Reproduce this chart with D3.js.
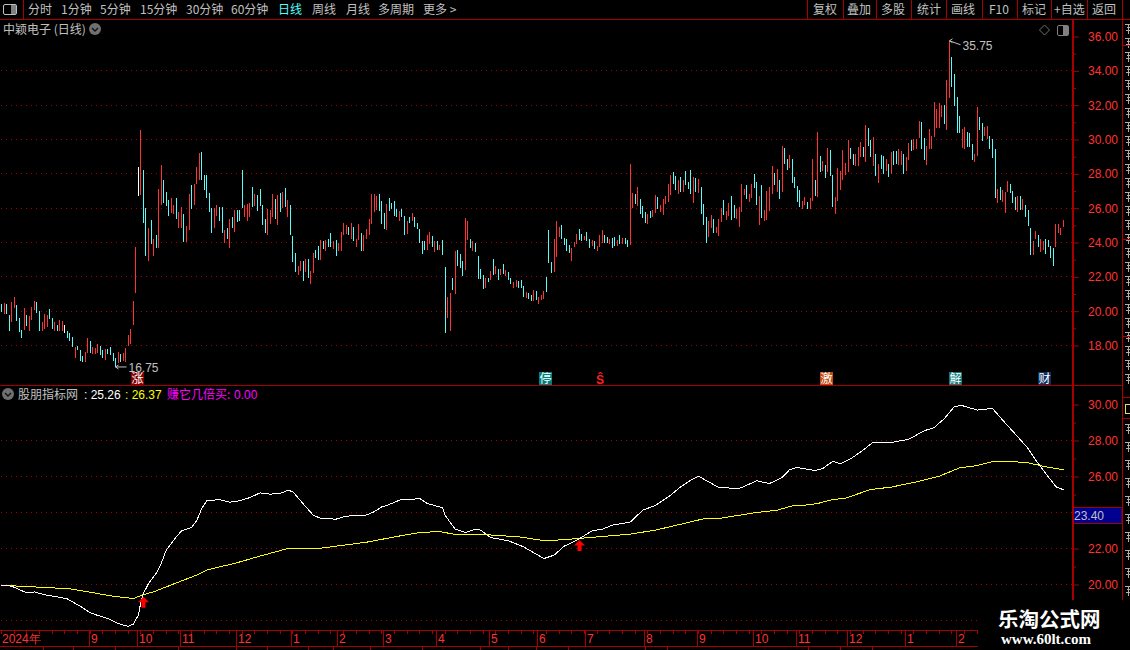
<!DOCTYPE html>
<html>
<head>
<meta charset="utf-8">
<title>中颖电子 (日线)</title>
<script src="https://cdnjs.cloudflare.com/ajax/libs/d3/7.8.5/d3.min.js"></script>
<style>
html, body { margin: 0; padding: 0; background: #000; overflow: hidden; }
svg { display: block; }
text { font-family: "Noto Sans CJK SC", "Noto Sans", sans-serif; font-size: 12px; }
.num { font-family: "Liberation Sans", Arial, sans-serif; }
</style>
</head>
<body>
<div id="chart"></div>
<script>
// daily bars: high, low and colour (r up, c down, w flat)
var barHigh = [20.43,20.47,20.43,19.75,20.55,20.80,20.37,19.63,18.93,20.16,
19.75,19.69,20.27,20.60,20.55,20.02,19.34,19.81,19.75,20.10,
19.63,19.34,19.17,19.46,19.40,19.17,18.87,18.70,18.52,17.94,
18.00,17.71,17.36,17.65,18.46,18.29,17.94,17.88,18.06,18.00,
17.71,17.77,17.82,17.94,17.59,17.30,17.65,17.53,17.59,17.88,
18.64,18.99,20.57,23.76,28.39,30.55,28.21,25.99,24.83,25.29,
24.18,24.42,27.10,28.50,27.63,26.93,26.46,26.58,26.17,26.58,
25.76,26.05,25.64,24.94,26.81,27.34,27.40,28.39,29.20,29.26,
27.92,27.92,26.87,25.99,25.99,26.17,26.05,26.05,24.71,24.83,
25.35,25.47,25.88,25.88,25.88,28.21,26.17,26.23,26.29,27.22,
26.81,26.75,27.10,26.17,25.35,25.94,25.88,26.81,26.52,26.75,
26.86,26.97,27.15,26.45,26.16,24.35,23.41,22.65,22.95,22.95,
23.06,23.06,22.36,23.41,23.59,23.82,24.17,24.11,24.17,24.23,
24.58,24.06,24.17,24.00,24.64,25.11,25.00,24.93,25.11,24.93,
24.23,25.05,24.58,24.46,24.81,25.34,26.80,26.80,26.68,26.80,
26.39,25.69,26.27,26.62,26.33,26.39,25.98,25.81,25.98,25.57,
25.28,25.51,25.69,25.51,25.16,24.76,24.11,24.06,24.41,24.64,
24.35,24.11,24.06,23.88,24.17,22.60,20.85,21.08,21.95,23.53,
23.59,23.35,22.95,25.40,25.28,24.23,24.11,24.00,23.24,22.48,
22.13,21.95,21.95,22.36,23.06,22.65,22.48,22.48,22.77,22.42,
22.30,21.95,21.72,21.84,21.78,21.84,21.49,21.14,21.08,20.96,
21.25,21.20,20.85,20.96,21.20,22.01,24.70,22.84,24.18,25.24,
24.88,25.00,24.24,24.18,23.83,23.66,24.01,24.48,24.77,24.48,
24.36,24.59,24.18,24.13,24.07,23.78,24.42,24.71,24.42,24.30,
24.18,24.24,24.30,24.13,24.42,24.24,24.24,24.13,28.56,26.87,
26.81,27.22,26.52,26.11,25.76,25.64,25.82,25.88,26.75,26.64,
26.17,26.52,26.69,27.40,27.92,28.10,27.86,27.63,27.80,27.63,
28.15,27.51,28.21,27.80,27.74,27.69,27.22,26.23,25.47,25.24,
25.59,25.35,24.88,25.35,25.99,26.46,25.82,26.29,26.69,26.17,
25.94,26.05,27.40,27.10,27.34,26.81,27.40,27.98,27.51,26.69,
27.34,25.88,26.99,27.22,28.45,28.04,28.27,27.63,29.61,29.50,
28.85,29.09,28.85,27.80,27.28,27.05,26.40,26.64,26.34,26.58,
28.88,27.66,30.46,29.06,28.77,28.53,29.52,29.41,27.95,26.66,
28.36,28.18,29.41,28.65,29.99,29.52,29.17,29.17,29.58,29.87,
29.58,30.87,30.69,29.99,30.17,29.17,28.59,29.12,29.06,28.88,
28.59,29.29,29.35,29.35,29.47,29.35,29.17,29.00,29.82,29.99,
30.05,30.05,31.10,31.04,30.11,29.64,30.63,30.23,32.21,31.80,
32.15,32.03,32.03,33.49,35.75,34.78,33.79,32.50,31.39,30.63,
30.75,30.46,30.40,29.76,29.17,31.92,31.33,30.98,30.75,30.81,
30.23,30.05,29.47,27.13,27.25,27.07,26.96,27.60,27.42,27.01,
26.66,26.72,26.72,26.55,26.20,25.91,24.86,24.10,24.68,24.45,
24.21,24.10,24.21,24.16,23.81,23.69,25.09,25.09,24.86,25.32];

var barLow = [19.96,19.81,19.81,18.87,19.36,20.20,19.40,18.78,18.46,18.93,
19.11,18.82,19.46,20.08,19.89,18.82,18.82,18.99,19.05,19.52,
18.99,18.87,18.87,18.82,18.82,18.70,18.46,18.29,17.94,17.30,
17.71,17.12,17.06,17.06,17.59,17.59,17.53,17.53,17.59,17.47,
17.30,17.18,17.53,17.47,17.12,16.75,17.00,17.06,17.12,17.06,
18.00,18.06,19.22,21.03,26.69,26.75,25.12,23.19,22.90,23.89,
23.19,23.66,23.66,26.17,26.29,26.11,25.53,25.70,25.64,25.35,
24.83,24.83,24.01,24.01,24.71,25.94,26.17,27.40,27.63,27.63,
27.05,26.58,25.76,24.53,24.83,25.53,25.24,24.53,23.95,24.18,
23.66,24.83,24.59,25.18,25.24,25.99,25.47,25.24,25.47,26.05,
26.11,25.82,26.11,25.00,24.53,24.42,25.06,25.47,25.35,25.00,
25.75,26.00,26.04,25.51,24.46,22.89,22.30,22.13,22.36,21.78,
22.30,21.95,21.60,22.25,23.12,23.00,23.00,23.65,23.53,23.76,
23.76,23.65,23.24,23.53,23.53,24.41,24.52,24.46,24.23,24.06,
23.76,24.17,23.53,23.53,24.23,24.46,25.05,25.75,25.92,25.86,
25.05,24.81,24.70,25.81,25.98,25.57,25.46,25.28,25.46,24.41,
24.52,25.11,25.28,24.93,24.81,24.00,23.35,23.59,23.59,23.94,
23.76,23.47,23.59,23.59,23.30,18.74,19.62,18.86,21.25,21.02,
22.65,22.54,22.07,22.42,24.17,23.70,23.53,23.47,21.90,21.90,
21.31,21.37,21.72,21.84,22.13,22.19,21.84,22.13,22.19,22.07,
21.84,21.60,21.37,21.43,21.37,21.37,20.85,20.79,20.73,20.61,
20.61,20.67,20.44,20.67,20.73,21.14,22.83,22.20,22.26,23.13,
24.30,24.18,23.83,23.48,23.37,22.90,23.72,23.89,24.13,24.07,
24.13,24.07,23.66,23.78,23.60,23.48,23.72,23.95,23.95,23.95,
23.89,23.66,23.78,23.78,23.89,23.89,23.89,23.72,23.83,25.99,
26.23,26.11,25.64,25.41,25.12,25.06,25.41,25.47,25.70,25.94,
25.76,25.59,26.23,26.34,26.75,27.40,27.05,26.81,26.93,26.93,
27.34,27.10,26.81,26.29,26.93,26.87,25.64,25.00,23.95,24.30,
24.83,24.53,24.53,24.36,25.18,25.59,25.29,25.53,25.29,25.41,
25.35,24.88,25.76,26.75,26.52,26.34,26.58,27.16,26.17,25.00,
25.41,25.24,25.29,25.82,26.81,27.34,26.93,26.52,26.93,28.56,
28.21,28.33,27.45,27.16,26.34,26.05,25.94,26.17,25.94,25.97,
26.43,26.72,26.66,28.12,28.18,27.77,28.12,27.89,26.08,25.67,
26.43,27.07,27.66,27.95,28.12,28.88,28.53,28.47,28.47,29.00,
29.00,28.71,29.64,29.00,28.47,27.89,27.48,28.30,28.01,28.18,
27.83,28.01,28.53,28.59,28.53,28.53,28.01,28.18,28.82,29.35,
29.41,29.47,30.11,29.47,28.82,28.53,29.47,29.47,30.17,30.69,
30.69,31.33,30.93,30.58,32.44,33.08,31.98,30.40,30.40,29.52,
29.47,29.58,29.58,28.82,28.71,29.06,30.58,29.93,30.23,30.05,
29.47,28.94,26.61,26.31,26.49,26.37,25.73,26.96,26.90,26.31,
25.91,25.79,25.91,25.91,25.50,24.97,23.28,23.28,24.21,23.75,
23.46,23.57,23.34,23.75,23.10,22.64,23.75,24.56,24.45,24.91];

var barKind = ("crccrrcccr" + "crrrccrrrc" + "crcrrwcccr" + "cccrrcrrrc" + "crccccrcrr" +
  "rrrrwrccrc" + "rcrrcccrrc" + "rrcrrcrrrc" + "ccccrrccrc" + "rcrcccrrrc" +
  "rccccrrrcr" + "crcrcccrrc" + "rcrrccrcrc" + "crcrrrrcrc" + "rrcrrrrrrc" +
  "ccrccccrcc" + "rcrcccccrr" + "crcrccrrcr" + "cccrrcrccc" + "crcrcrcrcr" +
  "ccrrcccrcc" + "rcrrrcccrr" + "rccccrrrcc" + "rccrcrrrcc" + "rccrcrccrr" +
  "crcccrcrrc" + "rrrrrccrcr" + "cccrcrcccr" + "rcrrrcrrcc" + "rrrrcrrccr" +
  "crrrrcrcrc" + "crccccrrcr" + "rcrcrcrccr" + "rrrrrccrrr" + "crccrcrccr" +
  "crccrrcrrc" + "rrrccrrrrr" + "rrcrrccccr" + "rcccrrccrr" + "cccrcrrrcc" +
  "crcrcccrrc" + "rrccccrrrr").split("");

var whiteDays = [0,3,5,9,11,13,17,22,26,31,35,38,42,46,50,52,54,55,56,58,61,63,65,69,71,75,77,79,81,86,90,94,98,102,106,110,113,115,118,123,126,132,135,139,143,147,150,152,158,161,165,168,174,175,179,183,187,189,193,200,206,214,218,222,227,233,237,241,248,253,258,264,268,272,275,279,283,291,298,303,308,311,314,321,324,328,331,335,339,344,351,358,364,368,372,376,379,385,391,395,401,405,408,412,416,419];
var whiteVals = [19.94,19.93,19.85,19.59,19.54,19.59,19.43,19.31,19.20,18.80,18.43,18.28,18.11,17.83,17.67,17.80,18.30,19.04,19.50,20.06,20.61,21.17,21.91,22.65,22.98,23.17,23.54,24.22,24.65,24.72,24.57,24.65,24.83,25.09,25.02,25.06,25.24,25.15,24.65,23.85,23.67,23.63,23.76,23.85,23.81,24.04,24.31,24.39,24.74,24.72,24.78,24.50,24.26,23.85,23.07,22.89,23.07,23.02,22.61,22.43,22.09,21.44,21.63,22.13,22.46,22.98,23.07,23.30,23.46,24.13,24.39,24.96,25.43,25.80,26.02,25.70,25.39,25.33,25.76,25.61,25.94,26.39,26.50,26.33,26.44,26.85,26.70,26.98,27.37,27.91,27.89,28.07,28.54,28.72,29.22,29.89,29.94,29.69,29.78,29.13,28.20,27.56,26.91,26.17,25.43,25.26];
var yellowDays = [0,7,15,27,35,44,52,56,60,71,77,81,86,92,101,113,125,144,158,165,173,179,190,204,214,221,239,248,258,268,277,284,297,306,312,316,322,328,333,343,351,360,370,378,385,391,399,405,412,419];
var yellowVals = [19.94,19.91,19.85,19.76,19.57,19.35,19.22,19.44,19.59,20.20,20.52,20.80,20.98,21.17,21.54,22.00,22.00,22.35,22.72,22.89,22.94,22.78,22.78,22.65,22.44,22.48,22.69,22.80,23.02,23.35,23.65,23.69,23.98,24.13,24.37,24.39,24.50,24.72,24.80,25.28,25.41,25.67,26.02,26.48,26.61,26.83,26.83,26.76,26.54,26.37];

// buy arrows: bar number and indicator value
var arrowDays = [56, 228];
var arrowVals = [19.32, 22.47];

// x axis
var monthDays = [0,35,54,71,93,115,133,151,172,193,212,231,254,275,297,314,334,357,377];
var monthLabels = ["2024年","9","10","11","12","1","2","3","4","5","6","7","8","9","10","11","12","1","2"];

// price and indicator ticks (the 24.00 label sits under the 23.40 box)
var priceTicks = [36,34,32,30,28,26,24,22,20,18];
var priceGrid = [34,32,30,28,26,24,22,20,18];
var priceMinor = [35,33,31,29,27,25,23,21,19];
var indexTicks = [30,28,26,22,20];
var indexGrid = [28,26,24,22,20,18];
var indexMinor = [29,27,25,21];

// toolbar
var leftMenu = ["分时","1分钟","5分钟","15分钟","30分钟","60分钟","日线","周线","月线","多周期","更多 >"];
var leftMenuX = [28,61,100,140,186,231,278,312,346,378,423];
var rightMenu = ["复权","叠加","多股","统计","画线","F10","标记","+自选","返回"];
var rightMenuX = [813,847,881,917,951,989,1022,1054,1092];
var rightMenuSep = [807,843,876,911,946,982,1017,1051,1087,1122];

// event tags under the candles
var tagDays = [52,213,324,375,410];
var tagText = ["涨","停","激","解","财"];
var tagColor = ["#800000","#008080","#c04a10","#107878","#0a3060"];

var width = 1130, height = 650;
var red = "#a80000", numRed = "#ff3232", gray = "#c0c0c0";
var colors = {r: "#ff3232", c: "#54fcfc", w: "#ffffff"};
var axisX = 1072;

const svg = d3.select("#chart").append("svg")
  .attr("width", width)
  .attr("height", height)
  .style("background", "#000");

// scales
var x = d3.scaleLinear().domain([0, barHigh.length - 1]).range([1.5, 1063.5]);
var priceY = d3.scaleLinear().domain([36, 18]).range([36.5, 345.5]);
var indexY = d3.scaleLinear().domain([30, 18]).range([404.5, 620.5]);

function px(i) { return Math.floor(x(i)); }

// dotted grid
function grid(values, y, right) {
  svg.append("g").selectAll("line").data(values).enter().append("line")
    .attr("x1", 1).attr("x2", function(d) { return d === 18 && y === indexY ? 978 : right; })
    .attr("y1", function(d) { return Math.floor(y(d)) + 0.5; })
    .attr("y2", function(d) { return Math.floor(y(d)) + 0.5; })
    .attr("stroke", "#a80000")
    .attr("stroke-dasharray", "1 4");
}
grid(priceGrid, priceY, axisX);
grid(indexGrid, indexY, axisX);

// bars
svg.append("g").selectAll("rect").data(barHigh).enter().append("rect")
  .attr("x", function(d, i) { return px(i); })
  .attr("y", function(d) { return priceY(d); })
  .attr("width", 1)
  .attr("height", function(d, i) { return priceY(barLow[i]) - priceY(d); })
  .attr("fill", function(d, i) { return colors[barKind[i]]; })
  .attr("shape-rendering", "crispEdges");

// high and low markers
function marker(i, value, dx, drop, textDrop, label) {
  var mx = px(i) + 0.5, my = priceY(value);
  svg.append("line").attr("x1", mx).attr("y1", my).attr("x2", mx + dx).attr("y2", my + drop)
    .attr("stroke", gray).attr("stroke-width", 1);
  svg.append("path").attr("d", "M" + (mx + 3) + "," + (my - 2) + "L" + mx + "," + my + "L" + (mx + 3) + "," + (my + 2))
    .attr("fill", "none").attr("stroke", gray);
  svg.append("text").attr("class", "num").attr("x", mx + dx + 2).attr("y", my + textDrop)
    .attr("fill", gray).text(label);
}
marker(374, 35.75, 11, 4, 9, "35.75");
marker(45, 16.75, 11, 0, 5, "16.75");

// event tags
tagDays.forEach(function(d, i) {
  var tx = px(d) - 2;
  svg.append("rect").attr("x", tx).attr("y", 372).attr("width", 13).attr("height", 13).attr("fill", tagColor[i]);
  svg.append("text").attr("x", tx + 0.5).attr("y", 383).attr("fill", "#fff").text(tagText[i]);
});
svg.append("text").attr("x", 596).attr("y", 384).attr("fill", "#ff2020").attr("class", "num").attr("font-weight", "bold").text("Ŝ");

// indicator lines
var indexLine = d3.line().x(function(d) { return x(d[0]); }).y(function(d) { return indexY(d[1]); });
svg.append("path").datum(d3.zip(yellowDays, yellowVals))
  .attr("d", indexLine).attr("fill", "none").attr("stroke", "#ffff00").attr("stroke-width", 1)
  .attr("shape-rendering", "crispEdges");
svg.append("path").datum(d3.zip(whiteDays, whiteVals))
  .attr("d", indexLine).attr("fill", "none").attr("stroke", "#ffffff").attr("stroke-width", 1)
  .attr("shape-rendering", "crispEdges");

// buy arrows
arrowDays.forEach(function(d, i) {
  var ax = px(d) + 0.5, ay = indexY(arrowVals[i]);
  svg.append("path")
    .attr("d", "M" + ax + "," + ay + "l5.5,5.5h-3.5v5.5h-4v-5.5h-3.5z")
    .attr("fill", "#ff0000");
});

// chrome lines
function hline(y, x1, x2, w) {
  svg.append("rect").attr("x", x1).attr("y", y).attr("width", x2 - x1).attr("height", w || 1).attr("fill", red);
}
function vline(xp, y1, y2, w) {
  svg.append("rect").attr("x", xp).attr("y", y1).attr("width", w || 1).attr("height", y2 - y1).attr("fill", red);
}
hline(19, 0, 1130);
hline(385, 0, 1122);
vline(23, 0, 19);
rightMenuSep.forEach(function(s) { vline(s, 0, 19); });
vline(axisX, 19, 600, 2);
vline(1122, 19, 600, 1);

// price axes
function drawAxis(scale, major, minor) {
  var g = svg.append("g").attr("transform", "translate(" + (axisX + 1) + ",0)");
  g.call(d3.axisRight(scale).tickValues(major).tickSize(6).tickPadding(9).tickFormat(d3.format(".2f")));
  g.select(".domain").remove();
  g.selectAll("line").attr("stroke", red);
  g.selectAll("text").attr("class", "num").attr("fill", numRed).style("font-size", "12px");
  var m = svg.append("g").attr("transform", "translate(" + (axisX + 1) + ",0)");
  m.call(d3.axisRight(scale).tickValues(minor).tickSize(3).tickFormat(""));
  m.select(".domain").remove();
  m.selectAll("line").attr("stroke", red);
}
drawAxis(priceY, priceTicks, priceMinor);
drawAxis(indexY, indexTicks, indexMinor);

// current value box
svg.append("rect").attr("x", 1073.5).attr("y", 507.5).attr("width", 48.5).attr("height", 16)
  .attr("fill", "#000090").attr("stroke", red);
svg.append("text").attr("class", "num").attr("x", 1074).attr("y", 519.5).attr("fill", gray).text("23.40");

// date axis
hline(630, 0, 978);
hline(646, 0, 978);
svg.append("g").selectAll("rect").data(d3.range(0, barHigh.length, 5)).enter().append("rect")
  .attr("x", function(d) { return px(d); }).attr("y", 631).attr("width", 1).attr("height", 3).attr("fill", red);
monthDays.forEach(function(d, i) {
  if (i > 0) vline(px(d) - 1, 630, 646);
  svg.append("text").attr("class", "num").attr("x", i > 0 ? px(d) + 1 : 2).attr("y", 642.5)
    .attr("fill", numRed).style("font-size", "12px").text(monthLabels[i]);
});
// status bar peeking in under the date axis
[43,73,115,178,236,267,308,333,370,422,480,508,536,568,645,667,808,840,872].forEach(function(s) { vline(s, 646, 650); });

// toolbar text
leftMenu.forEach(function(t, i) {
  svg.append("text").attr("x", leftMenuX[i]).attr("y", 14)
    .attr("fill", t === "日线" ? "#54fcfc" : gray).text(t);
});
rightMenu.forEach(function(t, i) {
  svg.append("text").attr("x", rightMenuX[i]).attr("y", 14).attr("fill", gray).text(t);
});
svg.append("rect").attr("x", 3.5).attr("y", 4.5).attr("width", 13).attr("height", 10).attr("rx", 1.5)
  .attr("fill", "none").attr("stroke", gray);
svg.append("rect").attr("x", 11).attr("y", 5).attr("width", 5).attr("height", 9).attr("fill", "#808080");

// title and small icons
function dropIcon(cx, cy) {
  svg.append("circle").attr("cx", cx).attr("cy", cy).attr("r", 6).attr("fill", "#707070");
  svg.append("path").attr("d", "M" + (cx - 3) + "," + (cy - 1) + "l3,3l3,-3").attr("fill", "none").attr("stroke", "#111").attr("stroke-width", 1.4);
}
svg.append("text").attr("x", 3).attr("y", 34).attr("fill", gray).text("中颖电子 (日线)");
dropIcon(95, 29);
svg.append("path").attr("d", "M1044.5,25l5,5l-5,5l-5,-5z").attr("fill", "none").attr("stroke", "#707070");
svg.append("rect").attr("x", 1057.5).attr("y", 25.5).attr("width", 11).attr("height", 10).attr("rx", 1.5).attr("fill", "none").attr("stroke", "#808080");
svg.append("rect").attr("x", 1063).attr("y", 26).attr("width", 5).attr("height", 9).attr("fill", "#808080");

// indicator legend
dropIcon(8, 394);
svg.append("text").attr("x", 18).attr("y", 399).attr("fill", gray).text("股朋指标网");
svg.append("text").attr("class", "num").attr("x", 84).attr("y", 398.5).attr("fill", "#fff").text(": 25.26");
svg.append("text").attr("class", "num").attr("x", 125).attr("y", 398.5).attr("fill", "#ffff00").text(": 26.37");
svg.append("text").attr("x", 167).attr("y", 399).attr("fill", "#ff00ff").text("赚它几倍买:");
svg.append("text").attr("class", "num").attr("x", 234).attr("y", 398.5).attr("fill", "#ff00ff").text("0.00");

// far right: the next panel is cut off by the window, only scraps of its rows show
var scrapRows = d3.range(24, 385, 14).concat(d3.range(424, 600, 18));
var scraps = svg.append("g").attr("fill", "#b0b0b0");
scrapRows.forEach(function(y) {
  scraps.append("rect").attr("x", 1125).attr("y", y).attr("width", 5).attr("height", 1);
  scraps.append("rect").attr("x", 1127).attr("y", y + 3).attr("width", 3).attr("height", 1);
  scraps.append("rect").attr("x", 1126).attr("y", y + 6).attr("width", 4).attr("height", 1);
  scraps.append("rect").attr("x", 1128).attr("y", y).attr("width", 1).attr("height", 10);
});
svg.append("rect").attr("x", 1125.5).attr("y", 404.5).attr("width", 6).attr("height", 9).attr("fill", "none").attr("stroke", "#e0e060");
[45, 239, 336, 397, 418].forEach(function(y) { hline(y, 1122, 1130); });

// watermark
svg.append("rect").attr("x", 978).attr("y", 601).attr("width", 152).attr("height", 49).attr("fill", "#000");
svg.append("text").attr("x", 998).attr("y", 627).attr("fill", "#fff").attr("font-weight", "bold")
  .style("font-size", "20.5px").text("乐淘公式网");
svg.append("text").attr("x", 1001).attr("y", 644).attr("fill", "#fff").attr("font-weight", "bold")
  .style("font-family", "'Liberation Serif', serif").style("font-size", "15px").text("www.60lt.com");
</script>
</body>
</html>
